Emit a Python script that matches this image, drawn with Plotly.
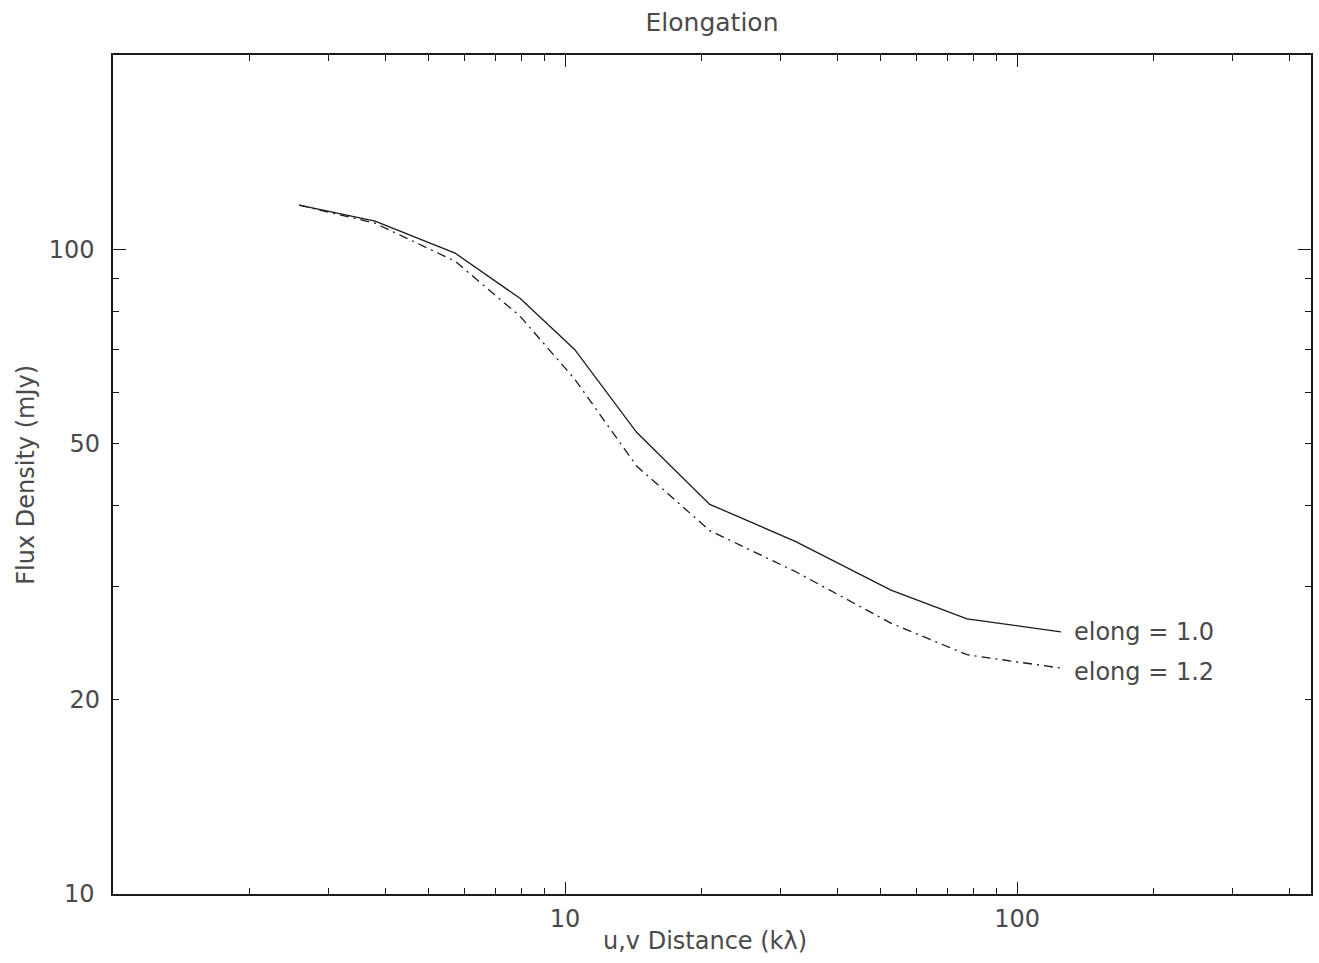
import math
import plotly.graph_objects as go

# u,v distance (kilo-wavelengths) sampled for both model runs
uv_dist = [2.58, 3.80, 5.71, 7.95, 10.5, 14.4, 20.9, 32.4, 52.6, 77.5, 125.0]

# Flux density (mJy) for the two elongation settings
flux_elong_10 = [117.0, 110.5, 98.6, 83.9, 69.9, 52.0, 40.2, 35.2, 29.6, 26.7, 25.5]
flux_elong_12 = [117.0, 109.7, 95.8, 78.7, 62.9, 46.1, 36.6, 31.6, 26.3, 23.5, 22.4]

series_labels = ["elong = 1.0", "elong = 1.2"]

x_major = [10, 100]
x_minor = [2, 3, 4, 5, 6, 7, 8, 9, 20, 30, 40, 50, 60, 70, 80, 90, 200, 300, 400]
y_major = [10, 100]
y_labelled_minor = [20, 50]
y_minor = [20, 30, 40, 50, 60, 70, 80, 90]

X_RANGE = [0.0, math.log10(447)]
Y_RANGE = [1.0, math.log10(200)]

FONT = "DejaVu Sans"
INK = "#1a1a1a"
TXT = "#4a4a4a"
FS = 24

fig = go.Figure()
fig.add_trace(go.Scatter(
    x=uv_dist, y=flux_elong_10, mode="lines", name=series_labels[0],
    line=dict(color=INK, width=1.3), showlegend=False,
))
fig.add_trace(go.Scatter(
    x=uv_dist, y=flux_elong_12, mode="lines", name=series_labels[1],
    line=dict(color=INK, width=1.3, dash="9px,5px,2px,5px"), showlegend=False,
    yaxis="y2",
))

axis_common = dict(
    type="log", showgrid=False, zeroline=False,
    showline=True, linecolor=INK, linewidth=1.5, mirror="ticks",
    ticks="inside", tickcolor=INK, tickwidth=1.3,
    tickfont=dict(family=FONT, size=FS, color=TXT),
)

fig.update_layout(
    width=1319, height=963, autosize=False,
    margin=dict(l=113, r=6, t=55, b=69),
    paper_bgcolor="white", plot_bgcolor="white",
    title=dict(
        text="Elongation", x=0.5, xref="paper", xanchor="center",
        y=1 - 22 / 963, yref="container", yanchor="middle",
        font=dict(family=FONT, size=FS + 1, color=TXT),
    ),
    xaxis=dict(
        **axis_common, range=X_RANGE,
        tickvals=x_major, ticktext=[str(v) for v in x_major], ticklen=12,
        ticklabelstandoff=2,
        minor=dict(tickvals=x_minor, ticks="inside", ticklen=6,
                   tickcolor=INK, tickwidth=1.2, showgrid=False),
    ),
    yaxis=dict(
        **axis_common, range=Y_RANGE,
        tickvals=y_major, ticktext=[str(v) for v in y_major], ticklen=13,
        ticklabelstandoff=12,
        minor=dict(tickvals=y_minor, ticks="inside", ticklen=6,
                   tickcolor=INK, tickwidth=1.2, showgrid=False),
    ),
    yaxis2=dict(
        type="log", overlaying="y", side="left", range=Y_RANGE,
        showgrid=False, zeroline=False, showline=False, ticks="",
        tickvals=y_labelled_minor, ticktext=[str(v) for v in y_labelled_minor],
        ticklabelstandoff=12,
        tickfont=dict(family=FONT, size=FS, color=TXT),
    ),
)

# Axis titles
fig.add_annotation(
    text="u,v Distance (kλ)", xref="paper", yref="paper",
    x=0.494, y=-0.056, xanchor="center", yanchor="middle", showarrow=False,
    font=dict(family=FONT, size=FS, color=TXT),
)
fig.add_annotation(
    text="Flux Density (mJy)", xref="paper", yref="paper", textangle=-90,
    x=-0.0733, y=0.5, xanchor="center", yanchor="middle", showarrow=False,
    font=dict(family=FONT, size=FS, color=TXT),
)

# Curve labels at the end of each line
for flux, label, yshift, yref in [
    (flux_elong_10, series_labels[0], 0, "y"),
    (flux_elong_12, series_labels[1], -4, "y2"),
]:
    fig.add_annotation(
        text=label, x=math.log10(uv_dist[-1]), y=math.log10(flux[-1]),
        xref="x", yref=yref, xanchor="left", yanchor="middle",
        xshift=11, yshift=yshift, showarrow=False,
        font=dict(family=FONT, size=FS, color=TXT),
    )

fig.write_html("out.html")
